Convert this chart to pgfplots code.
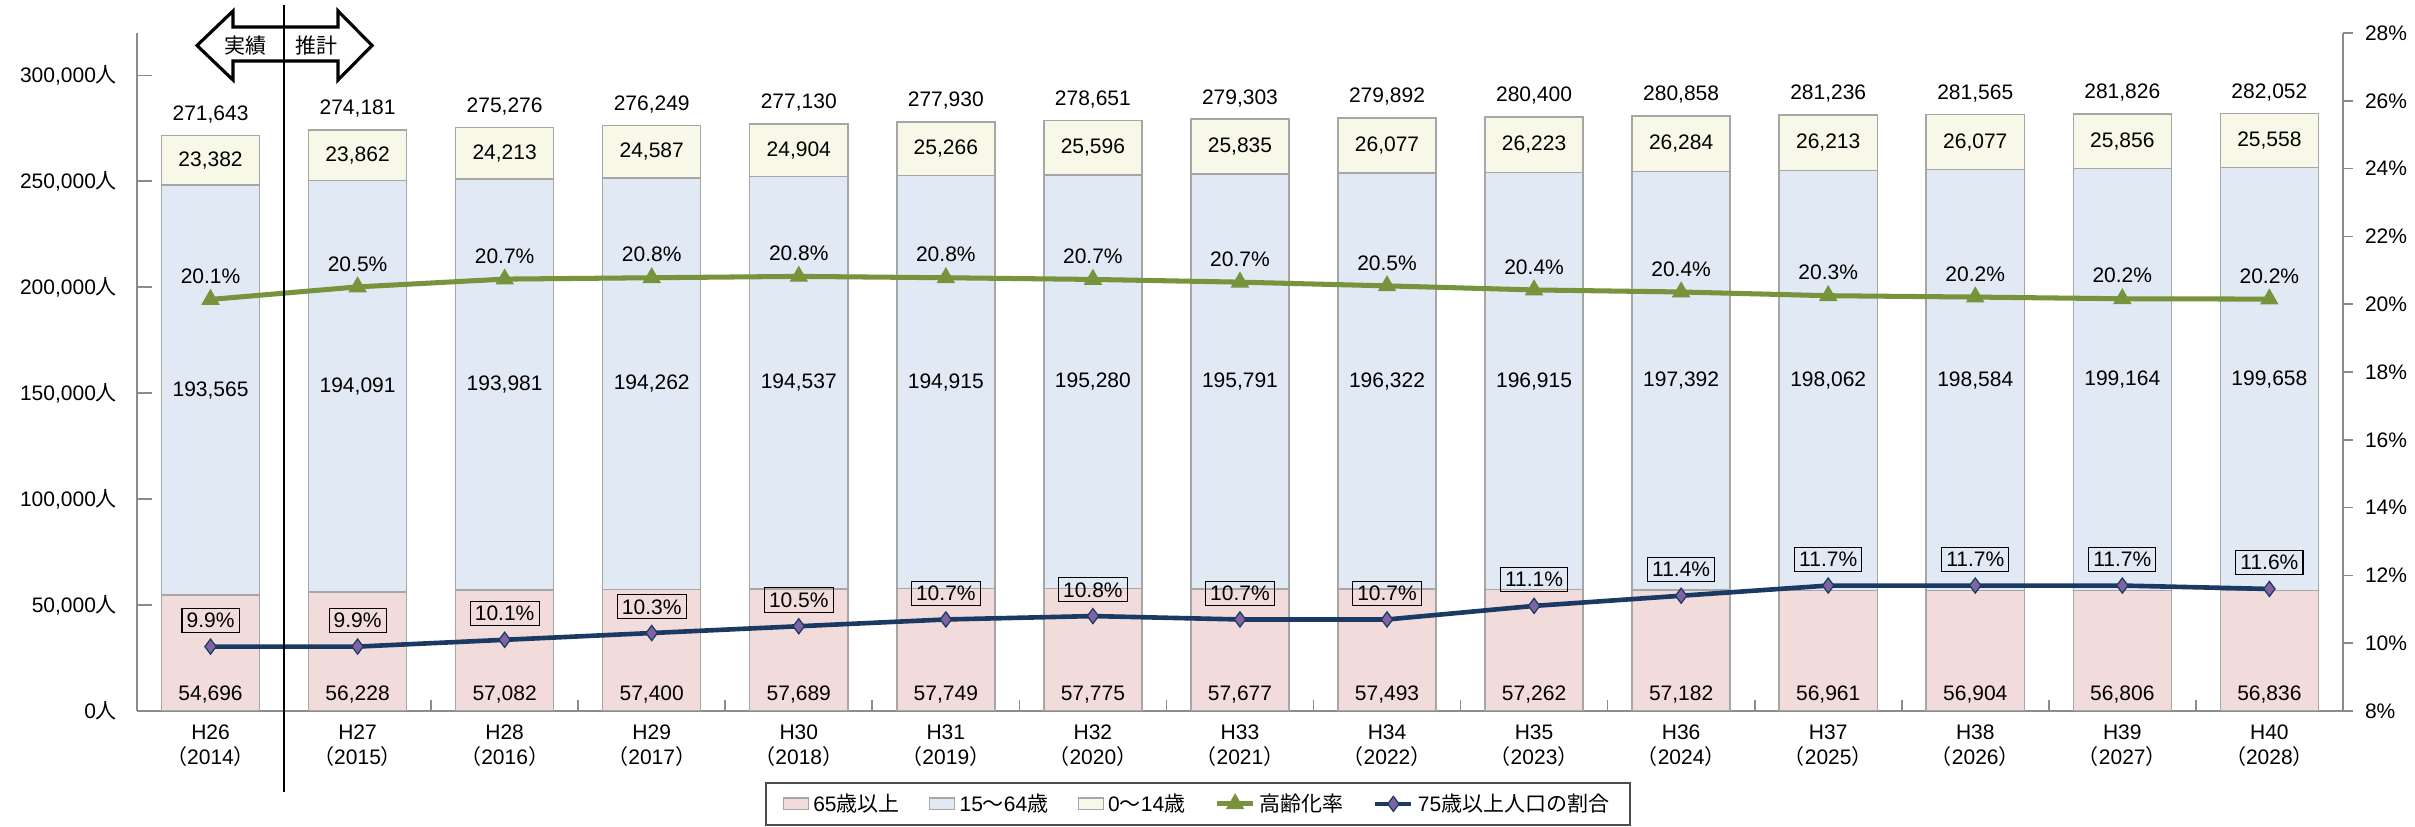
\documentclass[border=0pt]{standalone}
\usepackage{fontspec}
\setmainfont{Liberation Sans}
\newfontfamily\jp{Noto Sans CJK JP}
\usepackage{pgfplots}
\usepackage{pgfplotstable}
\pgfplotsset{compat=1.18}

\definecolor{old}{HTML}{F2DCDB}
\definecolor{work}{HTML}{E1E9F5}
\definecolor{young}{HTML}{F8F8E8}
\definecolor{barline}{HTML}{A6A6A6}
\definecolor{agegreen}{HTML}{77933C}
\definecolor{navy}{HTML}{1B3A63}
\definecolor{dia}{HTML}{8064A2}
\definecolor{axisgray}{HTML}{8C8C8C}

% population by age group
\pgfplotstableread{
x old work young total oldl workl youngl totall
0 54696 193565 23382 271643 54,696 193,565 23,382 271,643
1 56228 194091 23862 274181 56,228 194,091 23,862 274,181
2 57082 193981 24213 275276 57,082 193,981 24,213 275,276
3 57400 194262 24587 276249 57,400 194,262 24,587 276,249
4 57689 194537 24904 277130 57,689 194,537 24,904 277,130
5 57749 194915 25266 277930 57,749 194,915 25,266 277,930
6 57775 195280 25596 278651 57,775 195,280 25,596 278,651
7 57677 195791 25835 279303 57,677 195,791 25,835 279,303
8 57493 196322 26077 279892 57,493 196,322 26,077 279,892
9 57262 196915 26223 280400 57,262 196,915 26,223 280,400
10 57182 197392 26284 280858 57,182 197,392 26,284 280,858
11 56961 198062 26213 281236 56,961 198,062 26,213 281,236
12 56904 198584 26077 281565 56,904 198,584 26,077 281,565
13 56806 199164 25856 281826 56,806 199,164 25,856 281,826
14 56836 199658 25558 282052 56,836 199,658 25,558 282,052
}\pop

% rates (%)
\pgfplotstableread{
x rate ratel over overl
0 20.14 20.1 9.9 9.9
1 20.51 20.5 9.9 9.9
2 20.74 20.7 10.1 10.1
3 20.78 20.8 10.3 10.3
4 20.82 20.8 10.5 10.5
5 20.78 20.8 10.7 10.7
6 20.73 20.7 10.8 10.8
7 20.65 20.7 10.7 10.7
8 20.54 20.5 10.7 10.7
9 20.42 20.4 11.1 11.1
10 20.36 20.4 11.4 11.4
11 20.25 20.3 11.7 11.7
12 20.21 20.2 11.7 11.7
13 20.16 20.2 11.7 11.7
14 20.15 20.2 11.6 11.6
}\rates

\pgfplotsset{
  base/.style={
    width=36.92cm, height=11.348cm, scale only axis,
    at={(0,0)}, anchor=south west,
    xmin=-0.5, xmax=14.5,
  },
  lab/.style={
    only marks, mark=none, nodes near coords,
    point meta=explicit symbolic,
    every node near coord/.append style={anchor=center, text=black},
  },
}

\begin{document}
\fontsize{10}{12}\selectfont
\begin{tikzpicture}[font=\fontsize{10}{12}\selectfont]
  % stacked bars, left axis
  \begin{axis}[
    base,
    ybar stacked, bar width=0.667,
    ymin=0, ymax=320000,
    scaled y ticks=false,
    axis y line*=left, axis x line*=bottom,
    axis line style={-, draw=axisgray, line width=0.8pt},
    tick align=inside,
    ytick={0,50000,100000,150000,200000,250000,300000},
    yticklabels={{0{\jp 人}},{50,000{\jp 人}},{100,000{\jp 人}},{150,000{\jp 人}},
                 {200,000{\jp 人}},{250,000{\jp 人}},{300,000{\jp 人}}},
    yticklabel style={xshift=-6pt},
    y tick style={draw=axisgray, line width=0.8pt},
    major tick length=7pt,
    xtick={0,...,14},
    major x tick style={draw=none},
    minor xtick={0.5,1.5,...,13.5},
    minor x tick style={draw=axisgray, line width=0.8pt},
    minor tick length=5pt,
    xticklabel style={align=center, yshift=-3pt},
    xticklabels={
      {H26\\{\jp （}2014{\jp ）}},{H27\\{\jp （}2015{\jp ）}},{H28\\{\jp （}2016{\jp ）}},
      {H29\\{\jp （}2017{\jp ）}},{H30\\{\jp （}2018{\jp ）}},{H31\\{\jp （}2019{\jp ）}},
      {H32\\{\jp （}2020{\jp ）}},{H33\\{\jp （}2021{\jp ）}},{H34\\{\jp （}2022{\jp ）}},
      {H35\\{\jp （}2023{\jp ）}},{H36\\{\jp （}2024{\jp ）}},{H37\\{\jp （}2025{\jp ）}},
      {H38\\{\jp （}2026{\jp ）}},{H39\\{\jp （}2027{\jp ）}},{H40\\{\jp （}2028{\jp ）}}},
  ]
    \addplot[fill=old, draw=barline, line width=0.7pt] table[x=x, y=old] {\pop};
    \addplot[fill=work, draw=barline, line width=0.7pt] table[x=x, y=work] {\pop};
    \addplot[fill=young, draw=barline, line width=0.7pt] table[x=x, y=young] {\pop};
  \end{axis}

  % value labels on the bars
  \begin{axis}[base, hide axis, ymin=0, ymax=320000, clip=false]
    \addplot[lab] table[x=x, y expr=7600, meta=oldl] {\pop};
    \addplot[lab] table[x=x, y expr=\thisrow{old}+\thisrow{work}/2, meta=workl] {\pop};
    \addplot[lab] table[x=x, y expr=\thisrow{old}+\thisrow{work}+\thisrow{young}/2, meta=youngl] {\pop};
    \addplot[lab] table[x=x, y expr=\thisrow{total}+10000, meta=totall] {\pop};
  \end{axis}

  % rate lines, right axis
  \begin{axis}[
    base, clip=false,
    ymin=8, ymax=28,
    axis y line*=right, axis x line=none,
    axis line style={-, draw=axisgray, line width=0.8pt},
    tick align=outside,
    y tick style={draw=axisgray, line width=0.8pt},
    major tick length=5pt,
    ytick={8,10,...,28},
    yticklabels={8\%,10\%,12\%,14\%,16\%,18\%,20\%,22\%,24\%,26\%,28\%},
    yticklabel style={xshift=2pt},
    legend style={at={(0.481,-0.137)}, anchor=center,
                  draw=black!70, line width=0.7pt,
                  font=\fontsize{10}{12}\selectfont,
                  inner xsep=8pt, inner ysep=3pt,
                  legend columns=5,
                  /tikz/every even column/.append style={column sep=12pt}},
  ]
    \addlegendimage{legend image code/.code={
      \draw[fill=old, draw=barline, line width=0.6pt] (0cm,-0.1cm) rectangle (0.42cm,0.1cm);}}
    \addlegendentry{65{\jp 歳以上}}
    \addlegendimage{legend image code/.code={
      \draw[fill=work, draw=barline, line width=0.6pt] (0cm,-0.1cm) rectangle (0.42cm,0.1cm);}}
    \addlegendentry{15{\jp ～}64{\jp 歳}}
    \addlegendimage{legend image code/.code={
      \draw[fill=young, draw=barline, line width=0.6pt] (0cm,-0.1cm) rectangle (0.42cm,0.1cm);}}
    \addlegendentry{0{\jp ～}14{\jp 歳}}

    \addplot[agegreen, line width=2.4pt, mark=triangle*, mark size=4.6pt,
      mark options={fill=agegreen, draw=agegreen, line width=0.5pt},
      nodes near coords={\pgfplotspointmeta\%}, point meta=explicit symbolic,
      every node near coord/.append style={anchor=center, yshift=11pt, text=black}]
      table[x=x, y=rate, meta=ratel] {\rates};
    \addlegendentry{{\jp 高齢化率}}

    \addplot[navy, line width=2.2pt, mark=diamond*, mark size=3.6pt,
      mark options={fill=dia, draw=navy, line width=0.6pt},
      nodes near coords={\pgfplotspointmeta\%}, point meta=explicit symbolic,
      every node near coord/.append style={anchor=center, yshift=12.5pt, text=black,
        draw=black, line width=0.5pt, inner sep=2.2pt}]
      table[x=x, y=over, meta=overl] {\rates};
    \addlegendentry{75{\jp 歳以上人口の割合}}
  \end{axis}

  % actual / projection marker
  \begin{scope}[x=0.016737cm, y=-0.016737cm, xshift=-2.293cm, yshift=11.9cm]
    \draw[line width=1.5pt, fill=white, line join=miter]
      (197,45.5) -- (233,11) -- (233,27) -- (338,27) -- (338,11) -- (372,45.5)
      -- (338,80) -- (338,61) -- (233,61) -- (233,80) -- cycle;
    \node[font=\jp\fontsize{10}{12}\selectfont] at (245,46) {実績};
    \node[font=\jp\fontsize{10}{12}\selectfont] at (316,46) {推計};
    \draw[line width=1.4pt] (284,5) -- (284,792);
  \end{scope}

  \pgfresetboundingbox
  \path[use as bounding box] (-2.293cm,-1.925cm) rectangle (38.127cm,11.9cm);
\end{tikzpicture}
\end{document}
